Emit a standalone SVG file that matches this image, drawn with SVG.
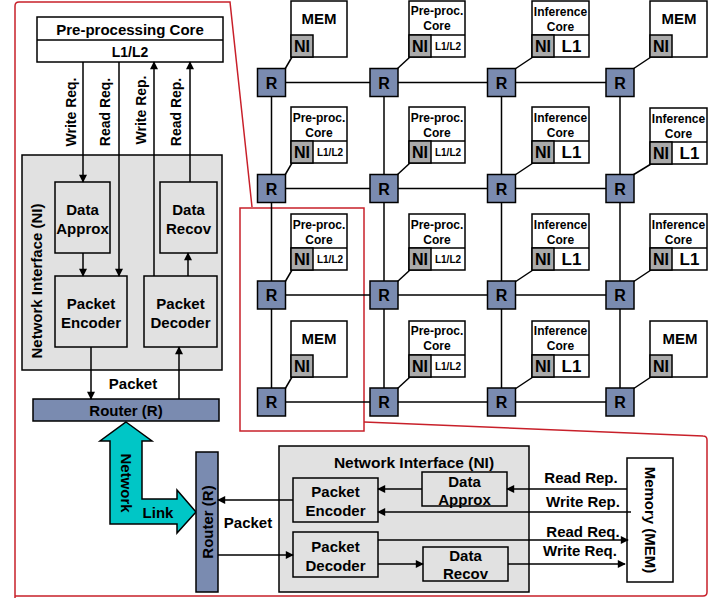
<svg xmlns="http://www.w3.org/2000/svg" width="724" height="598" viewBox="0 0 724 598">
<style>
.t{font-family:"Liberation Sans",Arial,sans-serif;font-weight:bold;fill:#000;text-anchor:middle;dominant-baseline:central}
.box{fill:#fff;stroke:#000;stroke-width:1.5}
.gbox{fill:#e1e1e1;stroke:#000;stroke-width:1.5}
.rt{fill:#7a8bb0;stroke:#000;stroke-width:1.5}
.ni{fill:#aaa;stroke:#000;stroke-width:1.5}
.ln{stroke:#000;stroke-width:1.5;fill:none}
.ar{marker-end:url(#ah)}
.red{stroke:#c8202a;stroke-width:1.5;fill:none}
.f15{font-size:15px}
.f14{font-size:14px}
.f13{font-size:13px}
.f12{font-size:12px}
.f16{font-size:16px}
</style>
<defs>
<marker id="ah" viewBox="0 0 10 10" refX="9" refY="5" markerWidth="9" markerHeight="8" markerUnits="userSpaceOnUse" orient="auto">
<path d="M0,0 L10,5 L0,10 z" fill="#000"/>
</marker>
</defs>
<rect width="724" height="598" fill="#fff"/>

<!-- red callout outlines -->
<g id="callouts">
<path class="red" d="M15,598 L15,6 Q15,2 19,2 L230,2 L252,207"/>
<rect class="red" x="240" y="208" width="124" height="223"/>
<path class="red" d="M364,422 L703,436 Q707,436 707,440 L707,592 Q707,596 703,596 L15,596"/>
</g>

<!-- top-left detail -->
<g id="preproc-core"><rect class="box" x="37" y="17" width="186" height="45"/><line class="ln" x1="37" y1="40" x2="223" y2="40"/><text class="t f15" x="130" y="29">Pre-processing Core</text><text class="t f14" x="130" y="51.5">L1/L2</text></g>
<g id="req-labels">
<text class="t f14" transform="translate(71,112) rotate(-90)">Write Req.</text>
<text class="t f14" transform="translate(105,112) rotate(-90)">Read Req.</text>
<text class="t f14" transform="translate(141,110) rotate(-90)">Write Rep.</text>
<text class="t f14" transform="translate(176,112) rotate(-90)">Read Rep.</text>
</g>
<g id="ni-top"><rect class="gbox" x="22" y="155" width="200" height="215"/><text class="t f15" transform="translate(36,281) rotate(-90)">Network Interface (NI)</text></g>
<g id="approx-top"><rect class="gbox" x="55" y="182" width="55" height="71"/><text class="t f15" x="82.5" y="209">Data</text><text class="t f15" x="82.5" y="228">Approx</text></g>
<g id="recov-top"><rect class="gbox" x="160" y="182" width="57" height="71"/><text class="t f15" x="188.5" y="209">Data</text><text class="t f15" x="188.5" y="228">Recov</text></g>
<g id="encoder-top"><rect class="gbox" x="55" y="276" width="72" height="71"/><text class="t f15" x="91" y="303">Packet</text><text class="t f15" x="91" y="322">Encoder</text></g>
<g id="decoder-top"><rect class="gbox" x="144" y="276" width="73" height="71"/><text class="t f15" x="180.5" y="303">Packet</text><text class="t f15" x="180.5" y="322">Decoder</text></g>
<text class="t f15" x="133" y="383">Packet</text>
<g id="router-top"><rect class="rt" x="33" y="399" width="186" height="22"/><text class="t f15" x="126" y="410.5">Router (R)</text></g>

<!-- network link -->
<g id="network-link">
<path d="M126,422 L152,441 L142,441 L142,499 L177,499 L177,490 L196,512 L177,533 L177,524 L110,524 L110,441 L100,441 Z" fill="#00c6c6" stroke="#000" stroke-width="1.5"/>
<text class="t f15" transform="translate(126,483) rotate(90)">Network</text>
<text class="t f15" x="158" y="512">Link</text>
</g>

<!-- bottom detail -->
<g id="router-bottom"><rect class="rt" x="196" y="452" width="22" height="140"/><text class="t f15" transform="translate(207.5,522) rotate(-90)">Router (R)</text></g>
<text class="t f15" x="248" y="522">Packet</text>
<g id="ni-bottom"><rect class="gbox" x="279" y="446" width="250" height="146"/><text class="t" style="font-size:15.5px" x="414" y="462">Network Interface (NI)</text></g>
<g id="encoder-bottom"><rect class="gbox" x="293" y="478" width="85" height="44"/><text class="t f15" x="335.5" y="491">Packet</text><text class="t f15" x="335.5" y="510">Encoder</text></g>
<g id="decoder-bottom"><rect class="gbox" x="293" y="532" width="85" height="45"/><text class="t f15" x="335.5" y="546">Packet</text><text class="t f15" x="335.5" y="565">Decoder</text></g>
<g id="approx-bottom"><rect class="gbox" x="422" y="472" width="85" height="34"/><text class="t f15" x="464.5" y="481">Data</text><text class="t f15" x="464.5" y="499">Approx</text></g>
<g id="recov-bottom"><rect class="gbox" x="423" y="547" width="85" height="34"/><text class="t f15" x="465.5" y="555">Data</text><text class="t f15" x="465.5" y="573.5">Recov</text></g>
<g id="memory"><rect class="box" x="627" y="458" width="46" height="124"/><text class="t f15" transform="translate(650,520) rotate(90)">Memory (MEM)</text></g>
<g id="mem-labels">
<text class="t f15" x="581" y="477">Read Rep.</text>
<text class="t f15" x="583" y="501">Write Rep.</text>
<text class="t f15" x="583" y="531">Read Req.</text>
<text class="t f15" x="580" y="550">Write Req.</text>
</g>

<!-- connectors -->
<g id="connectors">
<g class="ln">
<line x1="271.5" y1="82.5" x2="620" y2="82.5"/>
<line x1="271.5" y1="188.5" x2="620" y2="188.5"/>
<line x1="271.5" y1="295" x2="620" y2="295"/>
<line x1="271.5" y1="402" x2="620" y2="402"/>
<line x1="271.5" y1="82.5" x2="271.5" y2="402"/>
<line x1="384" y1="82.5" x2="384" y2="402"/>
<line x1="501.5" y1="82.5" x2="501.5" y2="402"/>
<line x1="620" y1="82.5" x2="620" y2="402"/>
<line x1="285" y1="69" x2="292" y2="57"/>
<line x1="397" y1="69" x2="410" y2="57"/>
<line x1="515" y1="69" x2="533" y2="57"/>
<line x1="633" y1="69" x2="651" y2="57"/>
<line x1="285" y1="175" x2="292" y2="163"/>
<line x1="397" y1="175" x2="410" y2="163"/>
<line x1="515" y1="175" x2="533" y2="163"/>
<line x1="633" y1="175" x2="651" y2="164"/>
<line x1="285" y1="282" x2="292" y2="270"/>
<line x1="397" y1="282" x2="410" y2="270"/>
<line x1="515" y1="282" x2="533" y2="270"/>
<line x1="633" y1="282" x2="651" y2="270"/>
<line x1="285" y1="389" x2="292" y2="377"/>
<line x1="397" y1="389" x2="410" y2="377"/>
<line x1="515" y1="389" x2="533" y2="377"/>
<line x1="633" y1="389" x2="651" y2="377"/>
</g>
<g class="ln">
<line class="ar" x1="83" y1="62" x2="83" y2="182"/>
<line class="ar" x1="119" y1="62" x2="119" y2="276"/>
<line class="ar" x1="154" y1="276" x2="154" y2="62"/>
<line class="ar" x1="190" y1="182" x2="190" y2="62"/>
<line class="ar" x1="83" y1="253" x2="83" y2="276"/>
<line class="ar" x1="188" y1="276" x2="188" y2="253"/>
<line class="ar" x1="91" y1="347" x2="91" y2="399"/>
<line class="ar" x1="179" y1="399" x2="179" y2="347"/>
</g>
<g class="ln">
<line class="ar" x1="293" y1="500" x2="218" y2="500"/>
<line class="ar" x1="218" y1="555" x2="293" y2="555"/>
<line class="ar" x1="627" y1="489" x2="507" y2="489"/>
<line class="ar" x1="422" y1="489" x2="378" y2="489"/>
<line class="ar" x1="631" y1="512" x2="378" y2="512"/>
<line class="ar" x1="378" y1="540" x2="628" y2="540"/>
<line class="ar" x1="378" y1="564" x2="423" y2="564"/>
<line class="ar" x1="508" y1="564" x2="625" y2="564"/>
</g>
</g>

<!-- routers in grid -->
<g id="routers">
<g id="r11"><rect class="rt" x="257.5" y="68.5" width="28" height="28"/><text class="t f16" x="271.5" y="83">R</text></g>
<g id="r12"><rect class="rt" x="370" y="68.5" width="28" height="28"/><text class="t f16" x="384" y="83">R</text></g>
<g id="r13"><rect class="rt" x="487.5" y="68.5" width="28" height="28"/><text class="t f16" x="501.5" y="83">R</text></g>
<g id="r14"><rect class="rt" x="606" y="68.5" width="28" height="28"/><text class="t f16" x="620" y="83">R</text></g>
<g id="r21"><rect class="rt" x="257.5" y="174.5" width="28" height="28"/><text class="t f16" x="271.5" y="189">R</text></g>
<g id="r22"><rect class="rt" x="370" y="174.5" width="28" height="28"/><text class="t f16" x="384" y="189">R</text></g>
<g id="r23"><rect class="rt" x="487.5" y="174.5" width="28" height="28"/><text class="t f16" x="501.5" y="189">R</text></g>
<g id="r24"><rect class="rt" x="606" y="174.5" width="28" height="28"/><text class="t f16" x="620" y="189">R</text></g>
<g id="r31"><rect class="rt" x="257.5" y="281" width="28" height="28"/><text class="t f16" x="271.5" y="295.5">R</text></g>
<g id="r32"><rect class="rt" x="370" y="281" width="28" height="28"/><text class="t f16" x="384" y="295.5">R</text></g>
<g id="r33"><rect class="rt" x="487.5" y="281" width="28" height="28"/><text class="t f16" x="501.5" y="295.5">R</text></g>
<g id="r34"><rect class="rt" x="606" y="281" width="28" height="28"/><text class="t f16" x="620" y="295.5">R</text></g>
<g id="r41"><rect class="rt" x="257.5" y="388" width="28" height="28"/><text class="t f16" x="271.5" y="402.5">R</text></g>
<g id="r42"><rect class="rt" x="370" y="388" width="28" height="28"/><text class="t f16" x="384" y="402.5">R</text></g>
<g id="r43"><rect class="rt" x="487.5" y="388" width="28" height="28"/><text class="t f16" x="501.5" y="402.5">R</text></g>
<g id="r44"><rect class="rt" x="606" y="388" width="28" height="28"/><text class="t f16" x="620" y="402.5">R</text></g>
</g>

<!-- tiles -->
<g id="tiles">
<g id="t11"><rect class="box" x="291" y="1" width="56" height="56"/><rect class="ni" x="291" y="35" width="22" height="22"/><text class="t f15" x="319" y="18">MEM</text><text class="t f16" x="302" y="46.5">NI</text></g>
<g id="t12"><rect class="box" x="409" y="1" width="56" height="56"/><line class="ln" x1="409" y1="35" x2="465" y2="35"/><rect class="ni" x="409" y="35" width="22" height="22"/><text class="t f12" x="437" y="11">Pre-proc.</text><text class="t f12" x="437" y="26">Core</text><text class="t f16" x="420" y="46.5">NI</text><text class="t" style="font-size:10px" x="448" y="46">L1/L2</text></g>
<g id="t13"><rect class="box" x="532" y="1" width="57" height="56"/><line class="ln" x1="532" y1="35" x2="589" y2="35"/><rect class="ni" x="532" y="35" width="22" height="22"/><text class="t f12" x="560.5" y="12">Inference</text><text class="t f12" x="560.5" y="26.5">Core</text><text class="t f16" x="543" y="46.5">NI</text><text class="t" style="font-size:17px" x="571.5" y="46.5">L1</text></g>
<g id="t14"><rect class="box" x="650" y="1" width="57" height="56"/><rect class="ni" x="650" y="35" width="22" height="22"/><text class="t f15" x="679" y="18">MEM</text><text class="t f16" x="661" y="46.5">NI</text></g>
<g id="t21"><rect class="box" x="291" y="107" width="56" height="56"/><line class="ln" x1="291" y1="141" x2="347" y2="141"/><rect class="ni" x="291" y="141" width="22" height="22"/><text class="t f12" x="319" y="118">Pre-proc.</text><text class="t f12" x="319" y="133">Core</text><text class="t f16" x="302" y="152.5">NI</text><text class="t" style="font-size:10px" x="330" y="152">L1/L2</text></g>
<g id="t22"><rect class="box" x="409" y="107" width="56" height="56"/><line class="ln" x1="409" y1="141" x2="465" y2="141"/><rect class="ni" x="409" y="141" width="22" height="22"/><text class="t f12" x="437" y="118">Pre-proc.</text><text class="t f12" x="437" y="133">Core</text><text class="t f16" x="420" y="152.5">NI</text><text class="t" style="font-size:10px" x="448" y="152">L1/L2</text></g>
<g id="t23"><rect class="box" x="532" y="107" width="57" height="56"/><line class="ln" x1="532" y1="141" x2="589" y2="141"/><rect class="ni" x="532" y="141" width="22" height="22"/><text class="t f12" x="560.5" y="118">Inference</text><text class="t f12" x="560.5" y="133">Core</text><text class="t f16" x="543" y="152.5">NI</text><text class="t" style="font-size:17px" x="571.5" y="152.5">L1</text></g>
<g id="t24"><rect class="box" x="650" y="108" width="57" height="56"/><line class="ln" x1="650" y1="142" x2="707" y2="142"/><rect class="ni" x="650" y="142" width="22" height="22"/><text class="t f12" x="678.5" y="119">Inference</text><text class="t f12" x="678.5" y="134">Core</text><text class="t f16" x="661" y="153.5">NI</text><text class="t" style="font-size:17px" x="689.5" y="153.5">L1</text></g>
<g id="t31"><rect class="box" x="291" y="214" width="56" height="56"/><line class="ln" x1="291" y1="248" x2="347" y2="248"/><rect class="ni" x="291" y="248" width="22" height="22"/><text class="t f12" x="319" y="225">Pre-proc.</text><text class="t f12" x="319" y="240">Core</text><text class="t f16" x="302" y="259.5">NI</text><text class="t" style="font-size:10px" x="330" y="259">L1/L2</text></g>
<g id="t32"><rect class="box" x="409" y="214" width="56" height="56"/><line class="ln" x1="409" y1="248" x2="465" y2="248"/><rect class="ni" x="409" y="248" width="22" height="22"/><text class="t f12" x="437" y="225">Pre-proc.</text><text class="t f12" x="437" y="240">Core</text><text class="t f16" x="420" y="259.5">NI</text><text class="t" style="font-size:10px" x="448" y="259">L1/L2</text></g>
<g id="t33"><rect class="box" x="532" y="214" width="57" height="56"/><line class="ln" x1="532" y1="248" x2="589" y2="248"/><rect class="ni" x="532" y="248" width="22" height="22"/><text class="t f12" x="560.5" y="225">Inference</text><text class="t f12" x="560.5" y="240">Core</text><text class="t f16" x="543" y="259.5">NI</text><text class="t" style="font-size:17px" x="571.5" y="259.5">L1</text></g>
<g id="t34"><rect class="box" x="650" y="214" width="57" height="56"/><line class="ln" x1="650" y1="248" x2="707" y2="248"/><rect class="ni" x="650" y="248" width="22" height="22"/><text class="t f12" x="678.5" y="225">Inference</text><text class="t f12" x="678.5" y="240">Core</text><text class="t f16" x="661" y="259.5">NI</text><text class="t" style="font-size:17px" x="689.5" y="259.5">L1</text></g>
<g id="t41"><rect class="box" x="291" y="321" width="56" height="56"/><rect class="ni" x="291" y="355" width="22" height="22"/><text class="t f15" x="319" y="338">MEM</text><text class="t f16" x="302" y="366.5">NI</text></g>
<g id="t42"><rect class="box" x="409" y="321" width="56" height="56"/><line class="ln" x1="409" y1="355" x2="465" y2="355"/><rect class="ni" x="409" y="355" width="22" height="22"/><text class="t f12" x="437" y="331">Pre-proc.</text><text class="t f12" x="437" y="346">Core</text><text class="t f16" x="420" y="366.5">NI</text><text class="t" style="font-size:10px" x="448" y="366">L1/L2</text></g>
<g id="t43"><rect class="box" x="532" y="321" width="57" height="56"/><line class="ln" x1="532" y1="355" x2="589" y2="355"/><rect class="ni" x="532" y="355" width="22" height="22"/><text class="t f12" x="560.5" y="331">Inference</text><text class="t f12" x="560.5" y="346">Core</text><text class="t f16" x="543" y="366.5">NI</text><text class="t" style="font-size:17px" x="571.5" y="366.5">L1</text></g>
<g id="t44"><rect class="box" x="650" y="321" width="57" height="56"/><rect class="ni" x="650" y="355" width="22" height="22"/><text class="t f15" x="680" y="338">MEM</text><text class="t f16" x="661" y="366.5">NI</text></g>
</g>
</svg>
